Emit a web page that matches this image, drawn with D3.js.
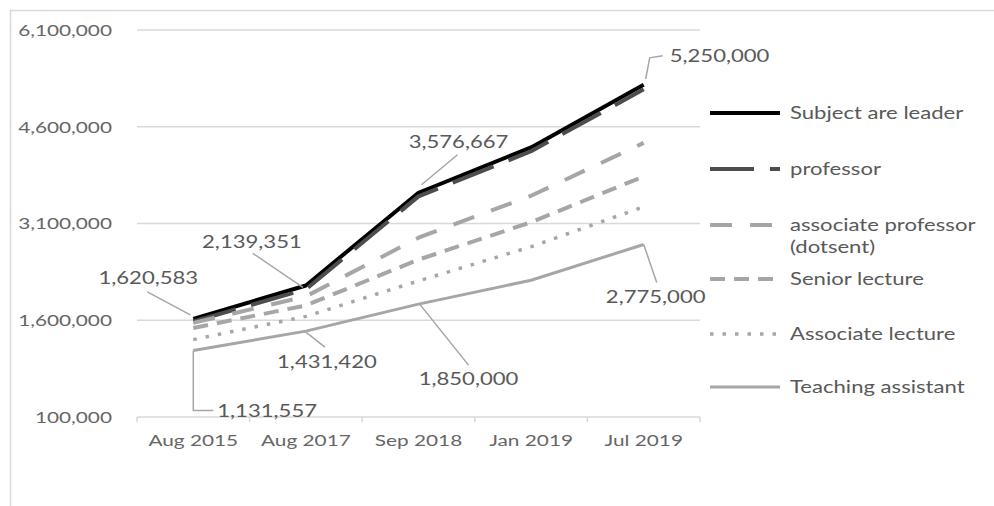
<!DOCTYPE html>
<html>
<head>
<meta charset="utf-8">
<script src="https://cdn.jsdelivr.net/npm/d3@7"></script>
<style>
    body { margin: 0; background: #fff; }
    svg text { font-family: Lato, "Open Sans", sans-serif; }
</style>
</head>
<body>
<svg id="grafico" width="994" height="506"></svg>
<script>

const categorias = ["Aug 2015", "Aug 2017", "Sep 2018", "Jan 2019", "Jul 2019"];

const nombresSeries = [
    "Subject are leader",
    "professor",
    "associate professor (dotsent)",
    "Senior lecture",
    "Associate lecture",
    "Teaching assistant"
];

const lider     = [1620583, 2139351, 3576667, 4280000, 5250000];
const profesor  = [1580000, 2080000, 3520000, 4220000, 5180000];
const docente   = [1560000, 1970000, 2880000, 3530000, 4350000];
const senior    = [1480000, 1830000, 2540000, 3120000, 3830000];
const asociado  = [1300000, 1660000, 2210000, 2740000, 3360000];
const asistente = [1131557, 1431420, 1850000, 2220000, 2775000];

const ticksY = [100000, 1600000, 3100000, 4600000, 6100000];

// which points carry a data label: [serie, categoria]
const etiquetas = [[0, 0], [0, 1], [0, 2], [0, 4], [5, 0], [5, 1], [5, 2], [5, 4]];

const valores = [lider, profesor, docente, senior, asociado, asistente];

dibujar();

function texto(g, px, py, s, anchor, size, color) {
    return g.append("text")
        .attr("transform", `translate(${px},${py}) scale(1.3,1)`)
        .attr("text-anchor", anchor)
        .attr("dy", "0.36em")
        .style("font-size", size + "px")
        .style("fill", color)
        .text(s);
}

function dibujar() {

    const svg = d3.select("#grafico");

    const width = 994;
    const height = 506;

    const margin = { top: 30, right: 294, bottom: 89, left: 137 };

    const x = d3.scaleBand()
        .domain(categorias)
        .range([margin.left, width - margin.right]);

    const y = d3.scaleLinear()
        .domain([100000, 6100000])
        .range([height - margin.bottom, margin.top]);

    const cx = c => x(c) + x.bandwidth() / 2;

    // marco recortado (solo arriba e izquierda)
    svg.append("path")
        .attr("d", `M10.5,${height} V10.5 H${width}`)
        .attr("fill", "none")
        .attr("stroke", "#d9d9d9")
        .attr("stroke-width", 1.5);

    // cuadricula
    svg.append("g")
        .selectAll("line")
        .data(ticksY)
        .enter()
        .append("line")
        .attr("x1", margin.left)
        .attr("x2", width - margin.right)
        .attr("y1", d => y(d))
        .attr("y2", d => y(d))
        .attr("stroke", "#d9d9d9")
        .attr("stroke-width", 1.5);

    // marcas del eje x en los limites
    const limites = categorias.map(c => x(c)).concat([x.range()[1]]);

    svg.append("g")
        .selectAll("line")
        .data(limites)
        .enter()
        .append("line")
        .attr("x1", d => d)
        .attr("x2", d => d)
        .attr("y1", y(100000))
        .attr("y2", y(100000) + 5)
        .attr("stroke", "#d9d9d9")
        .attr("stroke-width", 1.5);

    const fmt = d3.format(",");

    const ejes = svg.append("g");

    ticksY.forEach(t => {
        texto(ejes, 112, y(t), fmt(t), "end", 16, "#666");
    });

    categorias.forEach(c => {
        texto(ejes, cx(c), 440, c, "middle", 16, "#666");
    });

    const estilos = [
        { color: "#000000", w: 4,   dash: null },
        { color: "#4d4d4d", w: 4,   dash: "44,16" },
        { color: "#a6a6a6", w: 4,   dash: "22,18" },
        { color: "#a6a6a6", w: 4,   dash: "15,9" },
        { color: "#a6a6a6", w: 3.5, dash: "3.5,9" },
        { color: "#a6a6a6", w: 3,   dash: null }
    ];

    const linea = d3.line()
        .x((d, i) => cx(categorias[i]))
        .y(d => y(d));

    valores.forEach((serie, s) => {
        svg.append("path")
            .datum(serie)
            .attr("d", linea)
            .attr("fill", "none")
            .attr("stroke", estilos[s].color)
            .attr("stroke-width", estilos[s].w)
            .attr("stroke-dasharray", estilos[s].dash)
            .attr("stroke-linejoin", "round");
    });

    // etiquetas de datos con lineas guia
    const ajustes = [
        { tx: -45, ty: -41, anchor: "middle", guia: [[-3, -4], [-46, -27]] },
        { tx: -54, ty: -44, anchor: "middle", guia: [[-3, 2], [-53, -32]] },
        { tx: 40,  ty: -51, anchor: "middle", guia: [[3, -8], [39, -38]] },
        { tx: 26,  ty: -29, anchor: "start",  guia: [[2, -6], [6, -27], [19, -29]] },
        { tx: 24,  ty: 60,  anchor: "start",  guia: [[0, 0], [0, 60], [20, 60]] },
        { tx: 21,  ty: 31,  anchor: "middle", guia: [[0, 1], [19, 16]] },
        { tx: 50,  ty: 75,  anchor: "middle", guia: [[2, 1], [50, 61]] },
        { tx: 12,  ty: 52,  anchor: "middle", guia: [[0, 0], [13, 38]] }
    ];

    const capaEtiquetas = svg.append("g");

    etiquetas.forEach(([s, c], k) => {
        const px = cx(categorias[c]);
        const py = y(valores[s][c]);
        const a = ajustes[k];

        capaEtiquetas.append("path")
            .attr("d", d3.line()(a.guia.map(p => [px + p[0], py + p[1]])))
            .attr("fill", "none")
            .attr("stroke", "#a6a6a6")
            .attr("stroke-width", 1.5);

        texto(capaEtiquetas, px + a.tx, py + a.ty, fmt(valores[s][c]), a.anchor, 17, "#595959");
    });

    // leyenda
    const filasLeyenda = [113, 169, 225, 279, 334, 387];

    const leyenda = svg.append("g");

    nombresSeries.forEach((nombre, i) => {
        const ly = filasLeyenda[i];

        leyenda.append("line")
            .attr("x1", 710)
            .attr("x2", 780)
            .attr("y1", ly)
            .attr("y2", ly)
            .attr("stroke", estilos[i].color)
            .attr("stroke-width", estilos[i].w)
            .attr("stroke-dasharray", estilos[i].dash);

        if (nombre.indexOf("(") > 0) {
            const partes = nombre.split(" (");
            texto(leyenda, 790, ly, partes[0], "start", 17, "#595959");
            texto(leyenda, 790, ly + 22, "(" + partes[1], "start", 17, "#595959");
        } else {
            texto(leyenda, 790, ly, nombre, "start", 17, "#595959");
        }
    });

}
</script>
</body>
</html>
